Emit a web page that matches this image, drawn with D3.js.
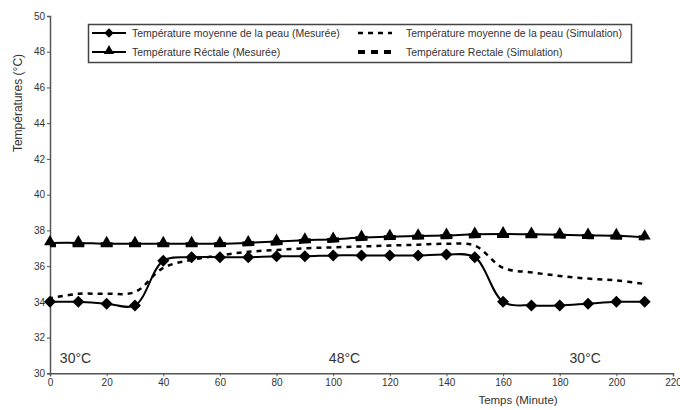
<!DOCTYPE html>
<html>
<head>
<meta charset="utf-8">
<script src="https://cdn.jsdelivr.net/npm/d3@7"></script>
<style>
  body { margin: 0; background: #fff; }
  text { font-family: "Liberation Sans", Arial, sans-serif; fill: #333; }
</style>
</head>
<body>
<div id="chart"></div>
<script>
// time points (minutes)
var temps = [0, 10, 20, 30, 40, 50, 60, 70, 80, 90, 100, 110, 120, 130, 140, 150, 160, 170, 180, 190, 200, 210];

var peauMesuree = [34.0, 34.0, 33.9, 33.8, 36.3, 36.5, 36.5, 36.5, 36.55, 36.55, 36.6, 36.6, 36.6, 36.6, 36.65, 36.5,
                   34.0, 33.8, 33.8, 33.9, 34.0, 34.0];
var peauSimulation = [34.2, 34.45, 34.45, 34.55, 35.9, 36.35, 36.6, 36.8, 36.9, 37.0, 37.05, 37.1, 37.15, 37.2, 37.25, 37.15,
                      35.9, 35.65, 35.45, 35.3, 35.2, 35.0];
var rectaleMesuree = [37.3, 37.3, 37.25, 37.25, 37.25, 37.25, 37.25, 37.3, 37.38, 37.45, 37.5, 37.6, 37.65, 37.68, 37.72, 37.78,
                      37.8, 37.78, 37.75, 37.72, 37.7, 37.62];
var rectaleSimulation = [37.2, 37.2, 37.2, 37.2, 37.2, 37.2, 37.2, 37.25, 37.3, 37.4, 37.45, 37.55, 37.6, 37.62, 37.65, 37.7,
                         37.72, 37.7, 37.68, 37.65, 37.62, 37.58];

var xTicks = [0, 20, 40, 60, 80, 100, 120, 140, 160, 180, 200, 220];
var yTicks = [30, 32, 34, 36, 38, 40, 42, 44, 46, 48, 50];

var phases = [
  { label: "30°C", t: 9 },
  { label: "48°C", t: 104 },
  { label: "30°C", t: 189 }
];

var legendItems = [
  { label: "Température moyenne de la peau (Mesurée)", kind: "peauMes" },
  { label: "Température Réctale (Mesurée)", kind: "rectMes" },
  { label: "Température moyenne de la peau (Simulation)", kind: "peauSim" },
  { label: "Température Rectale (Simulation)", kind: "rectSim" }
];

var width = 680, height = 410;

var svg = d3.select("#chart").append("svg")
    .attr("width", width)
    .attr("height", height);

var x = d3.scaleLinear().domain([0, 220]).range([50, 673]);
var y = d3.scaleLinear().domain([30, 50]).range([373.3, 16]);

var axisColor = "#555";

// axes
var xAxis = svg.append("g")
    .attr("transform", "translate(0," + y(30) + ")")
    .call(d3.axisBottom(x).tickValues(xTicks).tickSize(3).tickPadding(3));
var yAxis = svg.append("g")
    .attr("transform", "translate(" + x(0) + ",0)")
    .call(d3.axisLeft(y).tickValues(yTicks).tickSize(3).tickPadding(2));

[xAxis, yAxis].forEach(function(ax) {
  ax.select(".domain").attr("stroke", axisColor).attr("stroke-width", 1.5);
  ax.selectAll(".tick line").attr("stroke", axisColor);
  ax.selectAll(".tick text")
    .attr("fill", "#333")
    .style("font-size", "10px")
    .style("font-family", "'Liberation Sans', Arial, sans-serif");
});

svg.append("text")
    .attr("transform", "translate(22,103) rotate(-90)")
    .attr("text-anchor", "middle")
    .style("font-size", "12px")
    .text("Températures (°C)");

svg.append("text")
    .attr("x", 518)
    .attr("y", 404)
    .attr("text-anchor", "middle")
    .style("font-size", "11.5px")
    .text("Temps (Minute)");

// phase labels
svg.selectAll(".phase")
    .data(phases)
  .enter().append("text")
    .attr("class", "phase")
    .attr("x", function(d) { return x(d.t); })
    .attr("y", y(30.6))
    .attr("text-anchor", "middle")
    .style("font-size", "14px")
    .text(function(d) { return d.label; });

var toPoints = function(vals) {
  return temps.map(function(t, i) { return { t: t, v: vals[i] }; });
};

var line = d3.line()
    .x(function(d) { return x(d.t); })
    .y(function(d) { return y(d.v); })
    .curve(d3.curveCatmullRom.alpha(0.5));

// rectal simulation (thick dashes)
svg.append("path")
    .datum(toPoints(rectaleSimulation))
    .attr("fill", "none")
    .attr("stroke", "#000")
    .attr("stroke-width", 5)
    .attr("stroke-dasharray", "12,16.33")
    .attr("stroke-dashoffset", 6)
    .attr("d", line);

// skin simulation (dotted)
svg.append("path")
    .datum(toPoints(peauSimulation))
    .attr("fill", "none")
    .attr("stroke", "#000")
    .attr("stroke-width", 2.5)
    .attr("stroke-dasharray", "5,5")
    .attr("stroke-dashoffset", -8)
    .attr("d", line);

// measured lines
svg.append("path")
    .datum(toPoints(rectaleMesuree))
    .attr("fill", "none")
    .attr("stroke", "#000")
    .attr("stroke-width", 2)
    .attr("d", line);

svg.append("path")
    .datum(toPoints(peauMesuree))
    .attr("fill", "none")
    .attr("stroke", "#000")
    .attr("stroke-width", 2)
    .attr("d", line);

var square = d3.symbol().type(d3.symbolSquare).size(72);
var triangle = d3.symbol().type(d3.symbolTriangle).size(62);

svg.selectAll(".tri")
    .data(toPoints(rectaleMesuree))
  .enter().append("path")
    .attr("class", "tri")
    .attr("transform", function(d) { return "translate(" + x(d.t) + "," + (y(d.v) - 1) + ")"; })
    .attr("fill", "#000")
    .attr("d", triangle);

svg.selectAll(".dia")
    .data(toPoints(peauMesuree))
  .enter().append("path")
    .attr("class", "dia")
    .attr("transform", function(d) { return "translate(" + x(d.t) + "," + y(d.v) + ") rotate(45)"; })
    .attr("fill", "#000")
    .attr("d", square);

// legend
var legend = svg.append("g");
legend.append("rect")
    .attr("x", 88.5)
    .attr("y", 24.5)
    .attr("width", 543)
    .attr("height", 38)
    .attr("fill", "#fff")
    .attr("stroke", "#444")
    .attr("stroke-width", 1.5);

var legendPos = [
  { sx: 92, tx: 132, y: 33 },
  { sx: 92, tx: 132, y: 52 },
  { sx: 358, tx: 406, y: 33 },
  { sx: 358, tx: 406, y: 52 }
];

legendItems.forEach(function(item, i) {
  var p = legendPos[i];
  var g = legend.append("g");
  var sample = g.append("line")
      .attr("x1", p.sx).attr("x2", p.sx + 34)
      .attr("y1", p.y).attr("y2", p.y)
      .attr("stroke", "#000");
  if (item.kind === "peauMes") {
    sample.attr("stroke-width", 2);
    g.append("path")
        .attr("transform", "translate(" + (p.sx + 17) + "," + p.y + ") rotate(45)")
        .attr("fill", "#000")
        .attr("d", d3.symbol().type(d3.symbolSquare).size(45));
  } else if (item.kind === "rectMes") {
    sample.attr("stroke-width", 2);
    g.append("path")
        .attr("transform", "translate(" + (p.sx + 17) + "," + (p.y - 1) + ")")
        .attr("fill", "#000")
        .attr("d", d3.symbol().type(d3.symbolTriangle).size(45));
  } else if (item.kind === "peauSim") {
    sample.attr("stroke-width", 2.5).attr("stroke-dasharray", "5,5");
  } else {
    sample.attr("stroke-width", 4).attr("stroke-dasharray", "7,6");
  }
  g.append("text")
      .attr("x", p.tx)
      .attr("y", p.y)
      .attr("dy", "0.35em")
      .style("font-size", "10.5px")
      .text(item.label);
});
</script>
</body>
</html>
